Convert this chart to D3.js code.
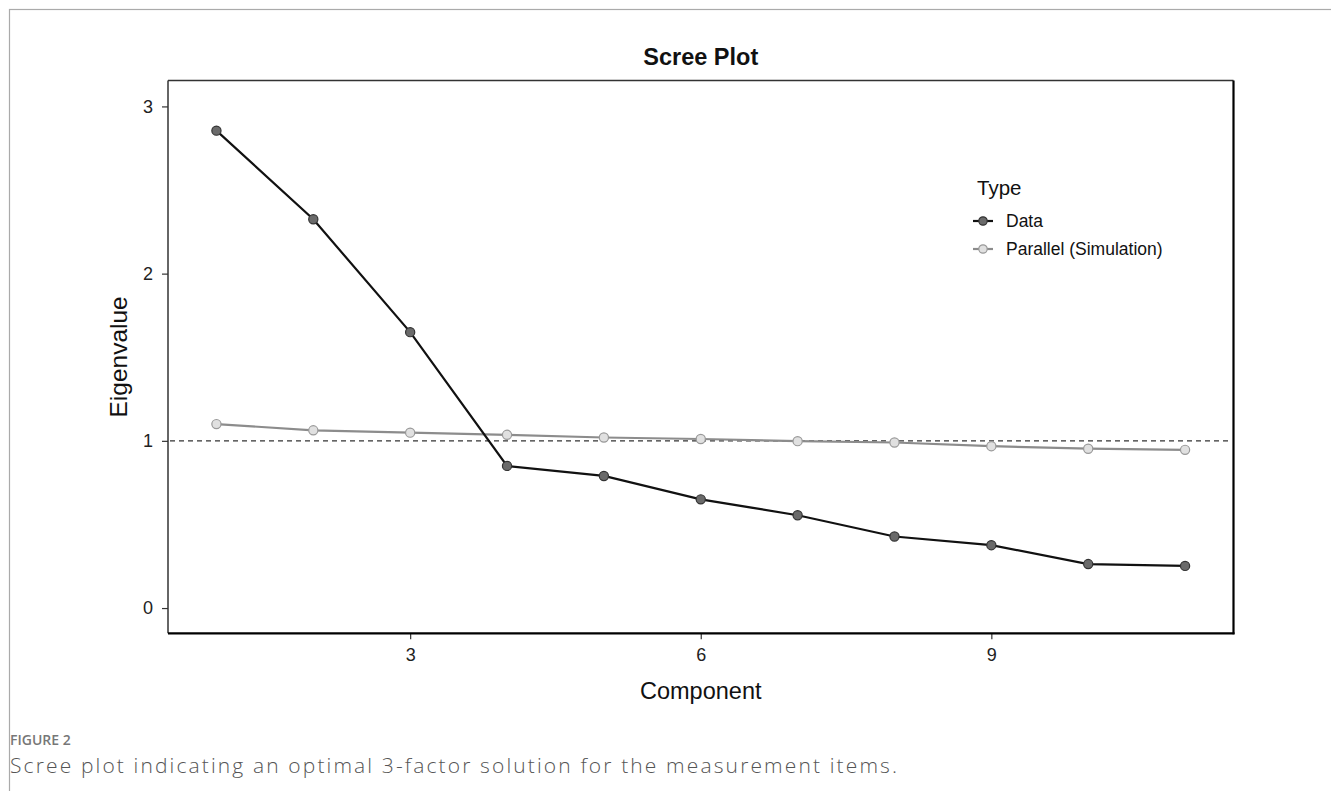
<!DOCTYPE html>
<html><head><meta charset="utf-8">
<script src="https://cdn.jsdelivr.net/npm/d3@7"></script>
<style>body{margin:0;background:#fff}svg{display:block}</style>
</head><body>
<script>
const components = [1,2,3,4,5,6,7,8,9,10,11];
const dataValues = [2.855,2.325,1.650,0.850,0.790,0.650,0.555,0.428,0.376,0.263,0.252];
const parallelValues = [1.100,1.063,1.049,1.036,1.020,1.011,0.998,0.990,0.968,0.953,0.946];
const xTicks = [3,6,9];
const yTicks = [0,1,2,3];
const seriesNames = ["Data","Parallel (Simulation)"];

const W=1331,H=791;
const svg=d3.select("body").append("svg").attr("width",W).attr("height",H);
const F="Liberation Sans, Arial, sans-serif";

// outer frame (top and left visible)
svg.append("rect").attr("x",9.5).attr("y",9.5).attr("width",W+20).attr("height",H+20)
  .attr("fill","none").attr("stroke","#aaa").attr("stroke-width",1.2);

const L=168,R=1233.5,T=80.5,B=633.3;
const x=d3.scaleLinear().domain([0.5,11.5]).range([L,R]);
const y=d3.scaleLinear().domain([-0.151,3.155]).range([B,T]);

// axes
const gx=svg.append("g").attr("transform",`translate(0,${B})`)
  .call(d3.axisBottom(x).tickValues(xTicks).tickFormat(d3.format("d")).tickSize(6).tickPadding(9));
const gy=svg.append("g").attr("transform",`translate(${L},0)`)
  .call(d3.axisLeft(y).tickValues(yTicks).tickFormat(d3.format("d")).tickSize(6).tickPadding(9));
[gx,gy].forEach(g=>{
  g.select(".domain").remove();
  g.selectAll(".tick line").attr("stroke","#333").attr("stroke-width",1.2);
  g.selectAll(".tick text").attr("font-family",F).attr("font-size",18).attr("fill","#222");
});

// panel border
svg.append("line").attr("x1",L).attr("x2",L).attr("y1",T).attr("y2",B).attr("stroke","#333").attr("stroke-width",1.5);
svg.append("line").attr("x1",L).attr("x2",R).attr("y1",T).attr("y2",T).attr("stroke","#333").attr("stroke-width",1.5);
svg.append("line").attr("x1",R).attr("x2",R).attr("y1",T).attr("y2",B+1).attr("stroke","#000").attr("stroke-width",2.2);
svg.append("line").attr("x1",L).attr("x2",R+1).attr("y1",B).attr("y2",B).attr("stroke","#000").attr("stroke-width",2.2);

// reference line
svg.append("line").attr("x1",L+2).attr("x2",R-4).attr("y1",y(1)).attr("y2",y(1))
  .attr("stroke","#333").attr("stroke-width",1.3).attr("stroke-dasharray","5,4");

const line=d3.line().x((d,i)=>x(components[i])).y(d=>y(d));
svg.append("path").datum(parallelValues).attr("d",line).attr("fill","none").attr("stroke","#8c8c8c").attr("stroke-width",2.2);
svg.append("path").datum(dataValues).attr("d",line).attr("fill","none").attr("stroke","#111").attr("stroke-width",2.2);

svg.append("g").selectAll("circle").data(parallelValues).join("circle")
  .attr("cx",(d,i)=>x(components[i])).attr("cy",d=>y(d)).attr("r",4.6)
  .attr("fill","#e0e0e0").attr("stroke","#999").attr("stroke-width",1.2);
svg.append("g").selectAll("circle").data(dataValues).join("circle")
  .attr("cx",(d,i)=>x(components[i])).attr("cy",d=>y(d)).attr("r",4.6)
  .attr("fill","#6a6a6a").attr("stroke","#333").attr("stroke-width",1.2);

// titles
svg.append("text").attr("x",(L+R)/2).attr("y",65).attr("text-anchor","middle")
  .attr("font-family",F).attr("font-size",23.5).attr("font-weight","bold").attr("fill","#111").text("Scree Plot");
svg.append("text").attr("x",(L+R)/2).attr("y",699).attr("text-anchor","middle")
  .attr("font-family",F).attr("font-size",23.5).attr("fill","#111").text("Component");
svg.append("text").attr("transform",`translate(127,${(T+B)/2}) rotate(-90)`).attr("text-anchor","middle")
  .attr("font-family",F).attr("font-size",24.5).attr("fill","#111").text("Eigenvalue");

// legend
const lg=svg.append("g");
lg.append("text").attr("x",977).attr("y",195).attr("font-family",F).attr("font-size",20.5).attr("fill","#111").text("Type");
const keys=[{c:"#111",f:"#6a6a6a",s:"#333",y:221},{c:"#8c8c8c",f:"#e0e0e0",s:"#999",y:249}];
keys.forEach((k,i)=>{
  lg.append("line").attr("x1",973).attr("x2",993).attr("y1",k.y).attr("y2",k.y).attr("stroke",k.c).attr("stroke-width",2.2);
  lg.append("circle").attr("cx",983).attr("cy",k.y).attr("r",4.2).attr("fill",k.f).attr("stroke",k.s).attr("stroke-width",1.2);
  lg.append("text").attr("x",1006).attr("y",k.y+6).attr("font-family",F).attr("font-size",17.5).attr("fill","#111").text(seriesNames[i]);
});

// caption
svg.append("text").attr("x",10).attr("y",745).attr("font-family","Open Sans, sans-serif").attr("font-size",14)
  .attr("font-weight",600).attr("fill","#777").text("FIGURE 2");
svg.append("text").attr("x",10).attr("y",773).attr("font-family","Open Sans, sans-serif").attr("font-size",21)
  .attr("font-weight",300).attr("textLength",887).attr("lengthAdjust","spacing")
  .attr("fill","#555").text("Scree plot indicating an optimal 3-factor solution for the measurement items.");
</script>
</body></html>
